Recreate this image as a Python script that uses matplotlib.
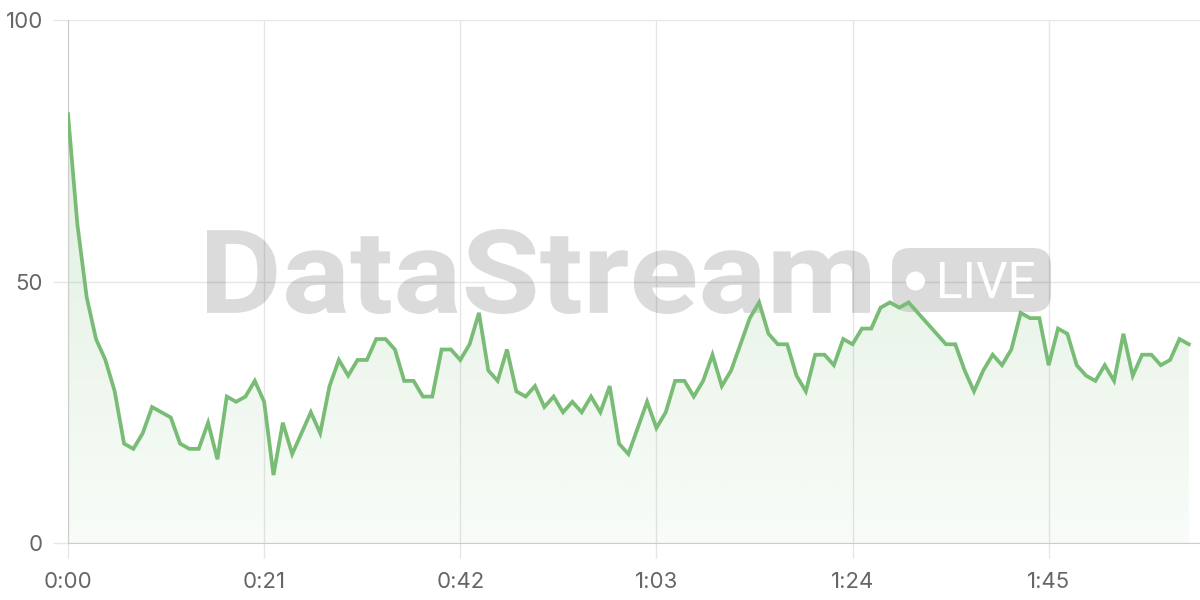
import numpy as np
import matplotlib
matplotlib.use("Agg")
import matplotlib.pyplot as plt
from matplotlib.patches import FancyBboxPatch, Circle, PathPatch
from matplotlib.textpath import TextPath
from matplotlib.font_manager import FontProperties
from matplotlib.transforms import Affine2D

# minutes since start, one sample per minute
minutes = list(range(0, 121))
values = [82, 61, 47, 39, 35, 29, 19, 18, 21, 26, 25, 24, 19, 18, 18, 23, 16, 28, 27, 28,
          31, 27, 13, 23, 17, 21, 25, 21, 30, 35, 32, 35, 35, 39, 39, 37, 31, 31, 28, 28,
          37, 37, 35, 38, 44, 33, 31, 37, 29, 28, 30, 26, 28, 25, 27, 25, 28, 25, 30, 19,
          17, 22, 27, 22, 25, 31, 31, 28, 31, 36, 30, 33, 38, 43, 46, 40, 38, 38, 32, 29,
          36, 36, 34, 39, 38, 41, 41, 45, 46, 45, 46, 44, 42, 40, 38, 38, 33, 29, 33, 36,
          34, 37, 44, 43, 43, 34, 41, 40, 34, 32, 31, 34, 31, 40, 32, 36, 36, 34, 35, 39,
          38]
x_ticks = [0, 21, 42, 63, 84, 105]
x_tick_labels = ["0:00", "0:21", "0:42", "1:03", "1:24", "1:45"]
y_ticks = [0, 50, 100]

line_color = "#78bc76"
grid_color = "#e6e6e6"
axis_color = "#cccccc"
text_color = "#666666"

plt.rcParams['font.family'] = ['Inter', 'DejaVu Sans']

W, H = 1200, 600
fig = plt.figure(figsize=(12, 6), dpi=100)
ax = fig.add_axes([68 / W, 1 - 543 / H, 1 - 68 / W, (543 - 20) / H])
px = Affine2D().scale(1 / W, 1 / H) + fig.transFigure  # pixel coords, origin bottom-left


def fitted_path(s, x0, x1, ytop, ybot, fp):
    # squeeze a text outline into a pixel box (y measured from top)
    tp = TextPath((0, 0), s, size=100, prop=fp)
    ext = tp.get_extents()
    tr = (Affine2D().translate(-ext.x0, -ext.y0)
          .scale((x1 - x0) / ext.width, (ybot - ytop) / ext.height)
          .translate(x0, H - ybot))
    return tr.transform_path(tp)


# watermark, translucent so the grid shows through
wm = (0, 0, 0, 0.14)
ax.add_artist(PathPatch(fitted_path("DataStream", 207, 870, 229, 314,
                                    FontProperties(family="Roboto", weight="bold")),
                        transform=px, facecolor=wm, edgecolor="none", zorder=0.6))
ax.add_artist(FancyBboxPatch((892, H - 312), 159, 64, boxstyle="round,pad=0,rounding_size=18",
                             transform=px, facecolor=wm, edgecolor="none", zorder=0.6))
ax.add_artist(Circle((915.5, H - 281), 9.5, transform=px, facecolor="white",
                     edgecolor="none", zorder=0.7))
ax.add_artist(PathPatch(fitted_path("LIVE", 940, 1034, 262, 298,
                                    FontProperties(family="Roboto")),
                        transform=px, facecolor="white", edgecolor="none", zorder=0.7))

# gradient fill under the line
fill = ax.fill_between(minutes, values, 0, facecolor="none", edgecolor="none")
grad = np.zeros((256, 1, 4))
grad[:, 0, :3] = matplotlib.colors.to_rgb(line_color)
grad[:, 0, 3] = np.linspace(0.05, 0.28, 256)
img = ax.imshow(grad, extent=[0, 120, 0, 100], origin="lower", aspect="auto", zorder=1)
clip = PathPatch(fill.get_paths()[0], transform=ax.transData, facecolor="none", edgecolor="none")
ax.add_patch(clip)
img.set_clip_path(clip)

ax.plot(minutes, values, color=line_color, linewidth=2.7, zorder=3, solid_joinstyle="miter")

ax.set_xlim(0, 121.2)
ax.set_ylim(0, 100)
ax.set_xticks(x_ticks)
ax.set_xticklabels(x_tick_labels)
ax.set_yticks(y_ticks)

ax.grid(True, color=grid_color, linewidth=1)
ax.set_axisbelow(True)
for side in ["top", "right"]:
    ax.spines[side].set_visible(False)
ax.spines["left"].set_color(axis_color)
ax.spines["bottom"].set_color(axis_color)
ax.tick_params(axis="x", length=11, width=1, color=grid_color, pad=10, labelsize=16, labelcolor=text_color)
ax.tick_params(axis="y", length=11, width=1, color=grid_color, pad=7, labelsize=16, labelcolor=text_color)

fig.savefig("out.png", dpi=100)
